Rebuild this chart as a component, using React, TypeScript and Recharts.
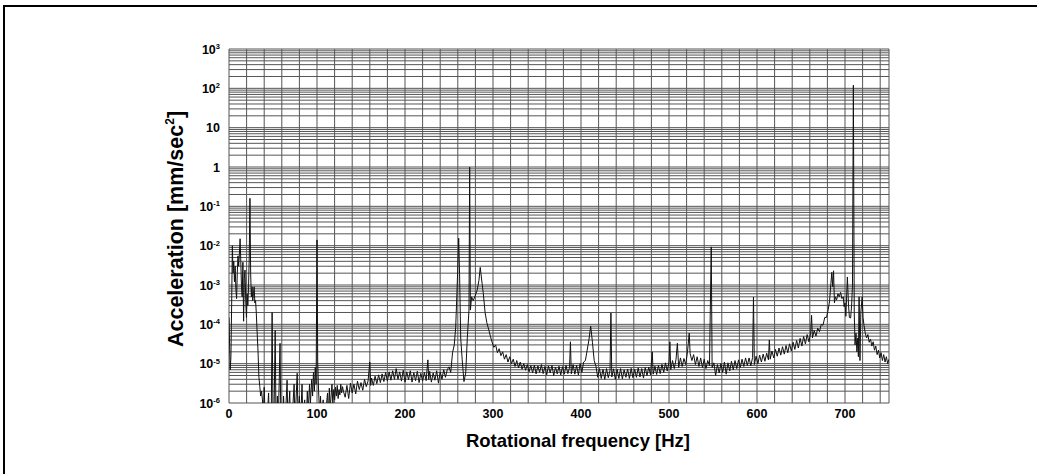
import React from "react"
import { LineChart, Line, XAxis, YAxis, CartesianGrid } from "recharts"

// spectrum samples (Hz / mm/sec^2)
const freqHz = [
  0, 0.7, 1.4, 2.2, 3, 3.8, 4.6, 5.4, 6.2, 7,
  7.8, 8.6, 9.4, 10.2, 11, 11.8, 12.6, 13.4, 14.2, 15,
  15.8, 16.6, 17.4, 18.2, 19, 19.8, 20.6, 21.4, 22.2, 23,
  23.8, 24.6, 25.4, 26.2, 27, 27.8, 28.6, 29.4, 30.2, 31,
  32, 33, 34, 35, 36, 37, 38, 39, 40, 41,
  42, 43, 45, 46, 48, 49, 50, 51, 52.5, 53.5,
  55, 56, 58, 59, 61, 62, 63.5, 66, 67, 69,
  70, 72, 74, 75, 77.5, 78.5, 80, 81, 83, 84,
  86, 87.5, 89, 90, 91.5, 92.5, 94, 95, 96, 97,
  98, 99, 100, 100.8, 101.8, 103, 104, 105, 107, 108,
  110, 112, 113, 114, 115, 116, 117, 118, 119, 120,
  121, 122, 123, 124, 125, 126, 127, 128, 129, 130,
  132, 134, 136, 138, 140, 142, 144, 146, 148, 150,
  152, 154, 156, 158, 160, 161, 162, 164, 166, 168,
  170, 172, 174, 176, 178, 180, 182, 184, 186, 188,
  190, 192, 194, 196, 198, 200, 202, 204, 206, 208,
  210, 212, 214, 216, 218, 220, 222, 224, 226, 227,
  228, 230, 232, 234, 236, 238, 240, 242, 244, 246,
  248, 250, 252, 254, 256, 257.6, 259, 260, 261, 262,
  263.3, 265, 267, 269, 270.8, 272.7, 273.5, 274.3, 275.7, 277.5,
  280, 282, 284, 285.5, 287.6, 289, 291, 293, 295.4, 297,
  299, 301, 303, 305, 307, 309, 311, 313, 315, 317,
  319, 321, 323, 325, 327, 329, 331, 333, 335, 337,
  339, 341, 343, 345, 347, 349, 351, 353, 355, 357,
  359, 361, 363, 365, 367, 369, 371, 373, 375, 377,
  379, 381, 383, 385, 387, 388, 389, 391, 393, 395,
  397, 399, 401, 403, 405, 407, 409, 411, 413, 415,
  417, 419, 421, 423, 425, 427, 429, 431, 433, 434,
  435, 437, 439, 441, 443, 445, 447, 449, 451, 453,
  455, 457, 459, 461, 463, 465, 467, 469, 471, 473,
  475, 477, 479, 481, 482, 484, 486, 488, 490, 492,
  494, 496, 498, 500, 501, 502, 504, 506, 508, 509.5,
  511, 513, 515, 517, 519, 521, 523, 524, 526, 528,
  530, 532, 534, 536, 538, 540, 542, 544, 546, 548,
  549, 551, 553, 555, 557, 559, 561, 563, 565, 567,
  569, 571, 573, 575, 577, 579, 581, 583, 585, 587,
  589, 591, 593, 595, 596, 597, 599, 601, 603, 605,
  607, 609, 611, 613, 614, 615, 617, 619, 621, 623,
  625, 627, 629, 631, 633, 635, 637, 639, 641, 643,
  645, 647, 649, 651, 653, 655, 657, 659, 661, 662,
  663, 665, 667, 669, 671, 673, 675, 677, 679, 681,
  682.5, 684, 685, 686, 687, 688, 689, 690.5, 692, 693.5,
  695, 696.5, 698, 699, 700, 701, 702.7, 704, 705, 706.4,
  707.5, 708.5, 709.5, 710.5, 711.4, 712.5, 713.5, 714.5, 715.2, 716,
  717, 718, 719.5, 720.5, 721.6, 723, 724.5, 726, 727.5, 729,
  730.5, 732, 733.5, 735, 736.5, 738, 739.5, 741, 742.5, 744,
  745.5, 747, 748.5, 750,
]

const accel = [
  1.5e-4, 3e-5, 7e-6, 1.5e-5, 3e-4, 1e-2, 2e-3, 4e-3, 1.2e-3, 3e-3,
  8e-4, 4.5e-4, 2e-3, 5.5e-3, 3e-3, 6e-3, 1.5e-2, 4e-3, 9e-4, 5e-4,
  3.8e-3, 1.2e-4, 1.5e-3, 2.4e-3, 4e-4, 1.5e-4, 6e-4, 3e-4, 9e-4, 5e-3,
  1.6e-1, 2e-3, 5e-4, 9e-4, 4e-4, 6e-4, 9e-4, 3.5e-4, 4e-4, 2e-4,
  6e-5, 2e-5, 4.5e-6, 2.6e-6, 1.5e-6, 2e-6, 1.2e-6, 4e-7, 2.5e-6, 5e-7,
  2e-7, 3e-7, 1.8e-6, 2e-7, 4e-7, 2e-4, 5e-7, 3e-7, 7e-5, 2e-7,
  1.5e-6, 3e-7, 3.3e-5, 2e-7, 4e-7, 1.5e-6, 2e-7, 3.8e-6, 3e-7, 2e-6,
  2e-7, 5e-7, 3e-6, 3e-7, 5.7e-6, 4e-7, 1.5e-6, 2e-7, 3e-6, 3e-7,
  1.2e-6, 2e-7, 2e-6, 6e-7, 3e-6, 1e-6, 4e-6, 1.5e-6, 6e-6, 2e-6,
  8e-6, 3e-6, 1.4e-2, 1.1e-5, 2e-6, 5e-7, 1.5e-6, 3e-7, 1.2e-6, 2e-7,
  6e-7, 1.8e-6, 4e-7, 2.4e-6, 7e-7, 1.5e-6, 3e-6, 9e-7, 2.2e-6, 1.2e-6,
  2.5e-6, 1.5e-6, 2.8e-6, 1.3e-6, 2.2e-6, 1.6e-6, 3e-6, 1.8e-6, 2.6e-6, 2e-6,
  1.4e-6, 2.8e-6, 1.3e-6, 3.2e-6, 1.8e-6, 3e-6, 1.7e-6, 3.6e-6, 2.2e-6, 3.3e-6,
  2.1e-6, 4e-6, 2.6e-6, 3.6e-6, 1.1e-5, 2.8e-6, 4.3e-6, 2.8e-6, 4.8e-6, 3.1e-6,
  5.2e-6, 3.3e-6, 5.5e-6, 3.5e-6, 6e-6, 3.6e-6, 6.2e-6, 3.8e-6, 6.6e-6, 4e-6,
  7.5e-6, 4e-6, 6.2e-6, 3.6e-6, 6.8e-6, 3.4e-6, 6.2e-6, 3.9e-6, 6.6e-6, 3.4e-6,
  5.9e-6, 3.7e-6, 6.4e-6, 3.3e-6, 5.7e-6, 3.6e-6, 6e-6, 3.7e-6, 1.25e-5, 3.9e-6,
  6.4e-6, 3.4e-6, 5.8e-6, 3.8e-6, 6.6e-6, 3.2e-6, 6.2e-6, 4e-6, 7e-6, 4.5e-6,
  7e-6, 8.3e-6, 6e-6, 1.9e-5, 3e-5, 8.5e-5, 6e-4, 2.9e-3, 1.55e-2, 2e-3,
  4.5e-5, 1.25e-5, 3.5e-6, 5.8e-6, 4.5e-5, 2.3e-4, 1.0, 2.3e-4, 5e-4, 4e-4,
  5.5e-4, 7.4e-4, 1.3e-3, 2.8e-3, 1.1e-3, 6e-4, 2e-4, 1.1e-4, 7e-5, 5e-5,
  3.5e-5, 2.6e-5, 3e-5, 1.9e-5, 2.4e-5, 1.6e-5, 2e-5, 1.3e-5, 1.7e-5, 1.1e-5,
  1.5e-5, 1e-5, 1.3e-5, 8.5e-6, 1.2e-5, 7.8e-6, 1.1e-5, 7.2e-6, 1e-5, 6.8e-6,
  9.5e-6, 6.2e-6, 9e-6, 5.8e-6, 9.2e-6, 5.5e-6, 8.8e-6, 6e-6, 9.5e-6, 5.6e-6,
  8.5e-6, 5.2e-6, 8.8e-6, 5.8e-6, 9e-6, 5e-6, 8.2e-6, 5.5e-6, 8.6e-6, 5.2e-6,
  8.4e-6, 5.4e-6, 9e-6, 5.6e-6, 8e-6, 3.6e-5, 5.5e-6, 9.5e-6, 5.4e-6, 9e-6,
  5.2e-6, 1e-5, 6e-6, 1.1e-5, 1.2e-5, 2.2e-5, 4e-5, 9e-5, 3.5e-5, 1.2e-5,
  8.5e-6, 4.5e-6, 7.5e-6, 4.2e-6, 7.2e-6, 4e-6, 7.5e-6, 4.4e-6, 6.8e-6, 1.95e-4,
  4.6e-6, 7.4e-6, 4e-6, 7.2e-6, 4.2e-6, 7.5e-6, 4.1e-6, 7e-6, 4.5e-6, 7.3e-6,
  4.2e-6, 7.6e-6, 4.4e-6, 7.2e-6, 4.5e-6, 7.8e-6, 4.6e-6, 7.5e-6, 4.3e-6, 8e-6,
  5e-6, 8.2e-6, 5.2e-6, 2e-5, 5.4e-6, 8.6e-6, 5.3e-6, 9e-6, 5.6e-6, 9.6e-6,
  6e-6, 1.05e-5, 6.5e-6, 1.1e-5, 3.6e-5, 7e-6, 1.2e-5, 7.5e-6, 1.3e-5, 3.3e-5,
  8e-6, 1.4e-5, 8.5e-6, 1.35e-5, 9.5e-6, 2e-5, 6e-5, 1.8e-5, 1.2e-5, 1.7e-5,
  9.5e-6, 1.5e-5, 8.5e-6, 1.4e-5, 8e-6, 1.3e-5, 7.5e-6, 1.2e-5, 9e-6, 9.3e-3,
  8e-6, 1.05e-5, 5e-6, 9.5e-6, 5.8e-6, 1e-5, 6e-6, 1.1e-5, 5.4e-6, 1.05e-5,
  6.5e-6, 1.15e-5, 7e-6, 1.2e-5, 7.5e-6, 1.25e-5, 8e-6, 1.3e-5, 8.5e-6, 1.4e-5,
  9e-6, 1.4e-5, 8.8e-6, 1.45e-5, 4.9e-4, 9.5e-6, 1.55e-5, 1e-5, 1.65e-5, 1.1e-5,
  1.75e-5, 1.15e-5, 1.85e-5, 1.25e-5, 4e-5, 1.3e-5, 2.1e-5, 1.4e-5, 2.3e-5, 1.55e-5,
  2.5e-5, 1.65e-5, 2.7e-5, 1.75e-5, 2.9e-5, 1.9e-5, 3.2e-5, 2.1e-5, 3.5e-5, 2.3e-5,
  3.9e-5, 2.5e-5, 4.4e-5, 2.8e-5, 4.9e-5, 3.2e-5, 5.5e-5, 3.6e-5, 6e-5, 1.7e-4,
  4.5e-5, 7e-5, 5e-5, 8e-5, 6.5e-5, 1e-4, 9.5e-5, 1.5e-4, 1.5e-4, 2.4e-4,
  4e-4, 1.1e-3, 2.1e-3, 9e-4, 2.3e-3, 3.5e-4, 5e-4, 4.2e-4, 6e-4, 5e-4,
  6.5e-4, 4.5e-4, 5e-4, 2.8e-4, 3.5e-4, 1.6e-4, 1.6e-3, 3e-4, 1.5e-4, 1.45e-4,
  3e-4, 1e-3, 120, 2e-4, 3e-5, 6e-5, 2e-5, 4.5e-5, 1.5e-5, 5e-4,
  1.2e-5, 2e-4, 5e-4, 1.5e-4, 9.4e-5, 6e-5, 4.5e-5, 5.5e-5, 3.5e-5, 4.2e-5,
  2.8e-5, 3.6e-5, 2.2e-5, 2.8e-5, 1.7e-5, 2.2e-5, 1.4e-5, 1.9e-5, 1.2e-5, 1.7e-5,
  1.1e-5, 1.5e-5, 1e-5, 1.3e-5,
]

const xGridHz = [
  0, 20, 40, 60, 80, 100, 120, 140, 160, 180, 200, 220, 240, 260, 280, 300, 320, 340, 360,
  380, 400, 420, 440, 460, 480, 500, 520, 540, 560, 580, 600, 620, 640, 660, 680, 700, 720, 740, 750,
]
const xLabels = [0, 100, 200, 300, 400, 500, 600, 700]

const yDecades = [1e-6, 1e-5, 1e-4, 1e-3, 1e-2, 1e-1, 1, 10, 100, 1000]
const yLabelBase = ["10", "10", "10", "10", "10", "10", "1", "10", "10", "10"]
const yLabelSup = ["-6", "-5", "-4", "-3", "-2", "-1", "", "", "2", "3"]

const yGridTicks = yDecades
  .slice(0, -1)
  .flatMap((d) => [1, 2, 3, 4, 5, 6, 7, 8, 9].map((m) => d * m))
  .concat([1000])

const FONT = "'Liberation Sans', Arial, sans-serif"

const renderXTick = (props: any) => {
  const { x, y, payload } = props
  if (!xLabels.includes(payload.value)) return <g />
  return (
    <text x={x} y={y} textAnchor="middle" fontFamily={FONT} fontWeight="bold" fontSize={12.5} fill="#000">
      {payload.value}
    </text>
  )
}

const renderYTick = (props: any) => {
  const { x, y, payload } = props
  const i = yDecades.indexOf(payload.value)
  if (i < 0) return <g />
  return (
    <text x={x} y={y + 4.5} textAnchor="end" fontFamily={FONT} fontWeight="bold" fontSize={12.5} fill="#000">
      {yLabelBase[i]}
      {yLabelSup[i] && (
        <tspan fontSize={7.5} dy={-4.5}>
          {yLabelSup[i]}
        </tspan>
      )}
    </text>
  )
}

export default function App() {
  const data = freqHz.map((f, i) => ({ f, a: accel[i] }))

  return (
    <div
      style={{
        position: "fixed",
        left: 0,
        top: 0,
        width: 1037,
        height: 474,
        overflow: "hidden",
        background: "#fff",
      }}
    >
      <div
        style={{
          position: "absolute",
          left: 3,
          top: 5,
          width: 1100,
          height: 600,
          borderTop: "2px solid #000",
          borderLeft: "2px solid #000",
        }}
      />
      <div style={{ position: "absolute", left: 0, top: 0 }}>
        <LineChart width={1037} height={474} data={data} margin={{ top: 49, right: 148, bottom: 41, left: 169 }}>
          <CartesianGrid stroke="#555" strokeWidth={1} />
          <XAxis
            dataKey="f"
            type="number"
            domain={[0, 750]}
            ticks={xGridHz}
            interval={0}
            allowDataOverflow
            axisLine={false}
            tickLine={false}
            tickSize={0}
            tickMargin={15}
            height={30}
            tick={renderXTick}
          />
          <YAxis
            type="number"
            scale="log"
            domain={[1e-6, 1000]}
            ticks={yGridTicks}
            interval={0}
            allowDataOverflow
            axisLine={false}
            tickLine={false}
            tickSize={0}
            tickMargin={9}
            width={60}
            tick={renderYTick}
          />
          <Line
            dataKey="a"
            type="linear"
            stroke="#111"
            strokeWidth={1}
            dot={false}
            isAnimationActive={false}
          />
          <text
            transform="translate(183,229) rotate(-90)"
            textAnchor="middle"
            fontFamily={FONT}
            fontWeight="bold"
            fontSize={21.5}
            fill="#000"
          >
            Acceleration [mm/sec
            <tspan fontSize={12} dy={-9}>
              2
            </tspan>
            <tspan dy={9}>]</tspan>
          </text>
          <text x={578} y={447} textAnchor="middle" fontFamily={FONT} fontWeight="bold" fontSize={18.5} fill="#000">
            Rotational frequency [Hz]
          </text>
        </LineChart>
      </div>
    </div>
  )
}
